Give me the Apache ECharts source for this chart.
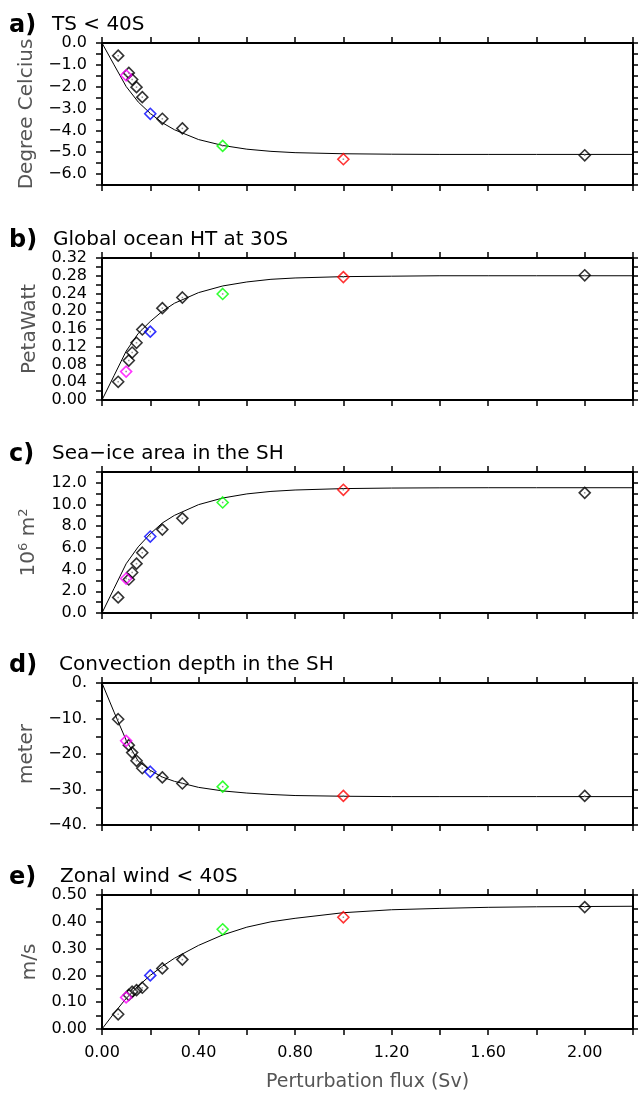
<!DOCTYPE html>
<html>
<head>
<meta charset="utf-8">
<script src="https://cdn.jsdelivr.net/npm/echarts@6/dist/echarts.min.js"></script>
<style>
html,body{margin:0;padding:0;background:#fff;}
#c{width:638px;height:1093px;}
</style>
</head>
<body>
<div id="c"></div>
<script>
// ---------- data ----------
const fluxBlack   = [0.067, 0.111, 0.125, 0.143, 0.167, 0.25, 0.333, 2.0];
const fluxColored = [0.1, 0.2, 0.5, 1.0];
const coloredNames = ['magenta', 'blue', 'green', 'red'];
const fitFlux = [0, 0.05, 0.1, 0.15, 0.2, 0.25, 0.3, 0.4, 0.5, 0.6, 0.7, 0.8, 1.0, 1.2, 1.4, 1.6, 1.8, 2.0, 2.2];

const tsBlack   = [-0.58, -1.37, -1.67, -2.02, -2.48, -3.47, -3.91, -5.14];
const tsColored = [-1.48, -3.24, -4.71, -5.32];
const tsFit     = [0, -1.0, -1.99, -2.70, -3.22, -3.65, -3.97, -4.42, -4.69, -4.86, -4.96, -5.02, -5.07, -5.09, -5.10, -5.10, -5.10, -5.10, -5.10];

const htBlack   = [0.041, 0.089, 0.107, 0.129, 0.159, 0.207, 0.231, 0.281];
const htColored = [0.064, 0.154, 0.239, 0.277];
const htFit     = [0, 0.055, 0.110, 0.150, 0.177, 0.200, 0.218, 0.242, 0.257, 0.266, 0.272, 0.275, 0.278, 0.279, 0.280, 0.280, 0.280, 0.280, 0.280];

const iceBlack   = [1.44, 3.09, 3.73, 4.55, 5.56, 7.69, 8.73, 11.08];
const iceColored = [3.18, 7.05, 10.19, 11.36];
const iceFit     = [0, 2.27, 4.54, 6.10, 7.30, 8.30, 9.00, 9.99, 10.60, 10.98, 11.21, 11.34, 11.47, 11.52, 11.54, 11.55, 11.55, 11.55, 11.55];

const convBlack   = [-10.2, -17.5, -19.6, -21.9, -24.0, -26.6, -28.3, -31.8];
const convColored = [-16.3, -25.0, -29.2, -31.8];
const convFit     = [0, -8.2, -16.1, -22.0, -24.6, -26.5, -27.7, -29.4, -30.4, -31.0, -31.4, -31.7, -31.9, -32.0, -32.0, -32.0, -32.0, -32.0, -32.0];

const windBlack   = [0.055, 0.127, 0.139, 0.145, 0.154, 0.226, 0.259, 0.455];
const windColored = [0.118, 0.200, 0.372, 0.417];
const windFit     = [0, 0.059, 0.114, 0.160, 0.200, 0.234, 0.264, 0.312, 0.351, 0.380, 0.400, 0.413, 0.434, 0.445, 0.450, 0.454, 0.456, 0.457, 0.458];

const panelLetters = ['a)', 'b)', 'c)', 'd)', 'e)'];
const panelTitles = ['TS < 40S', 'Global ocean HT at 30S', 'Sea\u2212ice area in the SH', 'Convection depth in the SH', 'Zonal wind < 40S'];
const yNames = ['Degree Celcius', 'PetaWatt', '10{s|6} m{s|2}', 'meter', 'm/s'];
const xName = 'Perturbation flux (Sv)';

// axis ranges: [min, max, tick step, label step, decimals]
const yRanges = [
  [-6.5, 0, 0.5, 1, 1],
  [0, 0.32, 0.02, 0.04, 2],
  [0, 13, 1, 2, 1],
  [-40, 0, 5, 10, 'dot'],
  [0, 0.5, 0.05, 0.1, 2]
];
const xRange = [0, 2.2, 0.2, 0.4, 2];

const blackSets   = [tsBlack, htBlack, iceBlack, convBlack, windBlack];
const coloredSets = [tsColored, htColored, iceColored, convColored, windColored];
const fitSets     = [tsFit, htFit, iceFit, convFit, windFit];

// ---------- layout / style ----------
const gridTops = [43, 258, 472, 683, 895];
const gridHeights = [142, 142, 141, 142, 143];
const titleLefts = [52, 53, 52, 59, 60];
const colorMap = {magenta:'#ff00ff', blue:'#0000ff', green:'#00ff00', red:'#ff0000'};
const FONT = 'DejaVu Sans';
const NAMECOLOR = '#555';

function isMult(v, s){ const r = v / s; return Math.abs(r - Math.round(r)) < 1e-6; }
function makeFmt(step, dec){
  return function(v){
    if (!isMult(v, step)) return '';
    let s;
    if (dec === 'dot') s = Math.round(v) + '.';
    else s = (Math.abs(v) < 1e-9 ? 0 : v).toFixed(dec);
    return s.replace('-', '\u2212');
  };
}

const grids = [], xAxes = [], yAxes = [], series = [], titles = [];
const axisLine = {show:true, onZero:false, lineStyle:{color:'#000', width:2}};
const axisTick = {show:true, inside:false, length:6, lineStyle:{color:'#000', width:1.5}};

for (let i = 0; i < 5; i++) {
  grids.push({left:102, right:5, top:gridTops[i], height:gridHeights[i]});
  const last = i === 4;
  xAxes.push({
    type:'value', gridIndex:i, position:'bottom', min:xRange[0], max:xRange[1], interval:xRange[2],
    axisLine, axisTick, splitLine:{show:false},
    axisLabel:{show:last, formatter:makeFmt(xRange[3], xRange[4]), margin:16, color:'#000', fontSize:16, fontFamily:FONT},
    name: last ? xName : '', nameLocation:'middle', nameGap:44,
    nameTextStyle:{fontSize:19, color:NAMECOLOR, fontFamily:FONT}
  });
  xAxes.push({
    type:'value', gridIndex:i, position:'top', min:xRange[0], max:xRange[1], interval:xRange[2],
    axisLine, axisTick, splitLine:{show:false}, axisLabel:{show:false}
  });
  const r = yRanges[i];
  yAxes.push({
    type:'value', gridIndex:i, position:'left', min:r[0], max:r[1], interval:r[2],
    axisLine, axisTick, splitLine:{show:false},
    axisLabel:{formatter:makeFmt(r[3], r[4]), margin:15, color:'#000', fontSize:16, fontFamily:FONT},
    name: yNames[i], nameLocation:'middle', nameGap:62, nameRotate:90,
    nameTextStyle:{fontSize:20, color:NAMECOLOR, fontFamily:FONT,
      rich:{s:{fontSize:13, color:NAMECOLOR, fontFamily:FONT, padding:[0,0,10,0]}}}
  });
  yAxes.push({
    type:'value', gridIndex:i, position:'right', min:r[0], max:r[1], interval:r[2],
    axisLine, axisTick, splitLine:{show:false}, axisLabel:{show:false}
  });

  const xi = i * 2, yi = i * 2;
  series.push({
    type:'line', xAxisIndex:xi, yAxisIndex:yi, showSymbol:false, silent:true,
    data: fitFlux.map((x, k) => [x, fitSets[i][k]]),
    lineStyle:{color:'#000', width:1}, z:2
  });
  series.push({
    type:'scatter', xAxisIndex:xi, yAxisIndex:yi, symbol:'diamond', symbolSize:11,
    data: fluxBlack.map((x, k) => [x, blackSets[i][k]]),
    itemStyle:{color:'rgba(0,0,0,0)', borderColor:'#000', borderWidth:1.6}, z:3
  });
  series.push({
    type:'scatter', xAxisIndex:xi, yAxisIndex:yi, symbol:'diamond', symbolSize:11,
    data: fluxColored.map((x, k) => ({value:[x, coloredSets[i][k]],
      itemStyle:{borderColor:colorMap[coloredNames[k]]}})),
    itemStyle:{color:'rgba(0,0,0,0)', borderWidth:1.6}, z:4
  });
  series.push({
    type:'scatter', xAxisIndex:xi, yAxisIndex:yi, symbol:'rect', symbolSize:1.5,
    data: fluxBlack.map((x, k) => [x, blackSets[i][k]]).concat(fluxColored.map((x, k) => [x, coloredSets[i][k]])),
    itemStyle:{color:'#777'}, z:5, silent:true
  });

  titles.push({text:panelLetters[i], left:9, top:gridTops[i] - 29, padding:0,
    textStyle:{fontSize:24, fontWeight:'bold', color:'#000', fontFamily:FONT}});
  titles.push({text:panelTitles[i], left:titleLefts[i], top:gridTops[i] - 28, padding:0,
    textStyle:{fontSize:20, fontWeight:'normal', color:'#000', fontFamily:FONT}});
}

const chart = echarts.init(document.getElementById('c'), null, {renderer:'canvas'});
chart.setOption({
  animation:false,
  backgroundColor:'#fff',
  title:titles,
  grid:grids,
  xAxis:xAxes,
  yAxis:yAxes,
  series:series
});
</script>
</body>
</html>
